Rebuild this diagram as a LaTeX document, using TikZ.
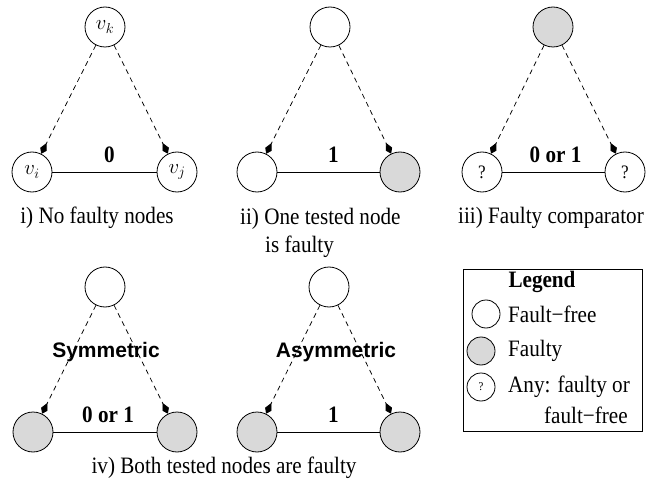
\documentclass[tikz,border=0pt]{standalone}
\usepackage{fontspec}
\setmainfont[FakeStretch=0.9]{Liberation Serif}
\newfontfamily\helv{Liberation Sans}
\usetikzlibrary{arrows.meta}
\definecolor{faultgray}{HTML}{D9D9D9}
\tikzset{
  nd/.style={circle,draw,line width=0.8pt,minimum size=40pt,inner sep=0pt,fill=white},
  fnd/.style={nd,fill=faultgray},
  lnd/.style={circle,draw,line width=0.8pt,minimum size=28pt,inner sep=0pt,fill=white},
  lfnd/.style={lnd,fill=faultgray},
  test/.style={dashed,dash pattern=on 5pt off 4pt,line width=0.75pt,-{Kite[length=12pt,width=7pt,inset=7pt]}},
  cmp/.style={line width=0.75pt},
  res/.style={font=\fontsize{23.5}{26}\selectfont\bfseries,inner sep=0pt},
  captxt/.style={font=\fontsize{23.5}{26}\selectfont,inner sep=0pt,anchor=base},
  mlab/.style={font=\fontsize{22}{24}\selectfont},
  qm/.style={font=\fontsize{19}{21}\selectfont},
  sym/.style={font=\fontsize{21}{24}\selectfont\helv\bfseries,inner sep=0pt}
}
\begin{document}
\begin{tikzpicture}[x=1pt,y=-1pt]
\useasboundingbox (0,0) rectangle (651,484);
% panel i
\node[nd,mlab] (k1) at (105,27) {$v_k$};
\node[nd,mlab] (i1) at (32,172) {$v_i$};
\node[nd,mlab] (j1) at (177,172) {$v_j$};
\draw[test] (k1) -- (i1);
\draw[test] (k1) -- (j1);
\draw[cmp] (i1) -- node[res,above=9pt,xshift=5pt] (r1) {0} (j1);
\node[captxt] (c1) at (97,223) {i) No faulty nodes};
% panel ii
\node[nd] (k2) at (330,27) {};
\node[nd] (i2) at (257,172) {};
\node[fnd] (j2) at (400,172) {};
\draw[test] (k2) -- (i2);
\draw[test] (k2) -- (j2);
\draw[cmp] (i2) -- node[res,above=9pt,xshift=5pt] (r2) {1} (j2);
\node[captxt,anchor=base west] (c2) at (240,224) {ii) One tested node};
\node[captxt,anchor=base west] (c2b) at (265,252) {is faulty};
% panel iii
\node[fnd] (k3) at (553,27) {};
\node[nd,qm] (i3) at (482,172) {?};
\node[nd,qm] (j3) at (625,172) {?};
\draw[test] (k3) -- (i3);
\draw[test] (k3) -- (j3);
\draw[cmp] (i3) -- node[res,above=9pt,xshift=2pt] (r3) {0 or 1} (j3);
\node[captxt] (c3) at (551,223) {iii) Faulty comparator};
% panel iv left
\node[nd] (k4) at (105,287) {};
\node[fnd] (i4) at (33,432) {};
\node[fnd] (j4) at (177,432) {};
\draw[test] (k4) -- (i4);
\draw[test] (k4) -- (j4);
\draw[cmp] (i4) -- node[res,above=9pt,xshift=3pt] (r4) {0 or 1} (j4);
\node[sym] (s4) at (106,352) {Symmetric};
% panel iv right
\node[nd] (k5) at (329,287) {};
\node[fnd] (i5) at (257,432) {};
\node[fnd] (j5) at (400,432) {};
\draw[test] (k5) -- (i5);
\draw[test] (k5) -- (j5);
\draw[cmp] (i5) -- node[res,above=9pt,xshift=5pt] (r5) {1} (j5);
\node[sym] (s5) at (336,352) {Asymmetric};
\node[captxt] (c4) at (224,473) {iv) Both tested nodes are faulty};
% legend
\node[draw,line width=0.8pt,minimum width=179pt,minimum height=162pt,anchor=north west] (leg) at (463,269) {};
\node[res] (lt) at (542,282) {Legend};
\node[lnd] (l1) at (486,314) {};
\node[lfnd] (l2) at (481,351) {};
\node[lnd,font=\fontsize{12}{14}\selectfont] (l3) at (481,387) {?};
\node[captxt,anchor=west] (t1) at (508,314) {Fault−free};
\node[captxt,anchor=west] (t2) at (508,351) {Faulty};
\node[captxt,anchor=west] (t3) at (508,387) {Any: faulty or};
\node[captxt,anchor=west] (t4) at (544,415) {fault−free};
\end{tikzpicture}
\end{document}
